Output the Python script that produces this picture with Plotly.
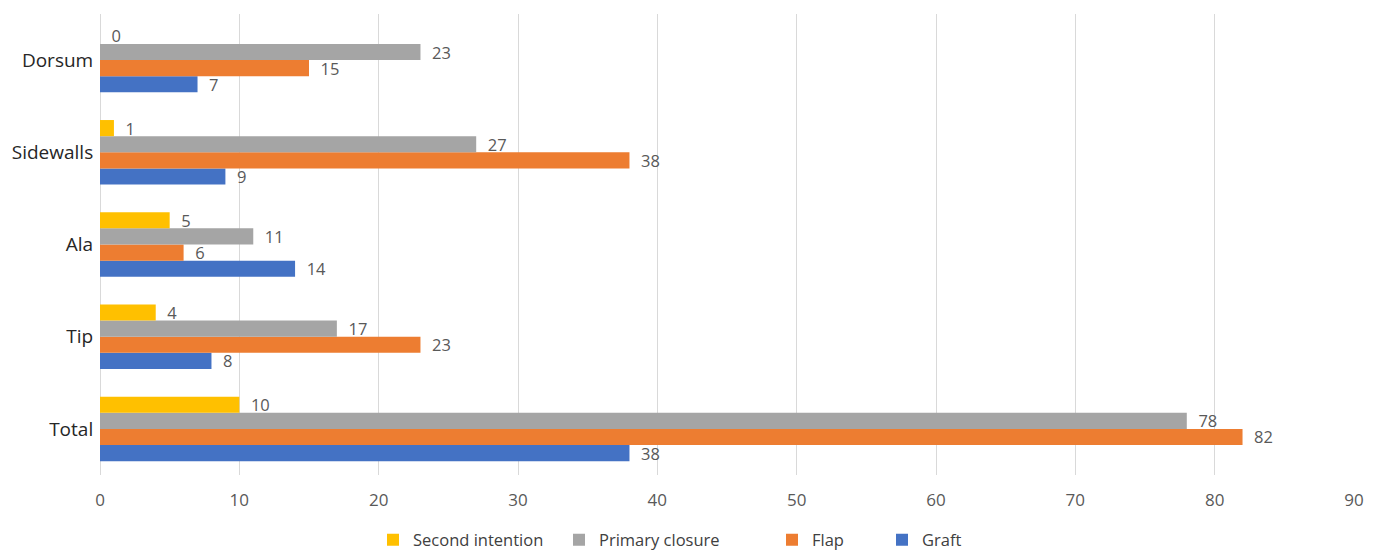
import plotly.graph_objects as go

categories = ["Total", "Tip", "Ala", "Sidewalls", "Dorsum"]
graft = [38, 8, 14, 9, 7]
flap = [82, 23, 6, 38, 15]
primary_closure = [78, 17, 11, 27, 23]
second_intention = [10, 4, 5, 1, 0]
x_ticks = [0, 10, 20, 30, 40, 50, 60, 70, 80, 90]

series = [
    ("Graft", graft, "#4472C4", "legend4", 882),
    ("Flap", flap, "#ED7D31", "legend3", 772),
    ("Primary closure", primary_closure, "#A5A5A5", "legend2", 559),
    ("Second intention", second_intention, "#FFC000", "legend", 373),
]

fig = go.Figure()
for name, vals, color, leg, _ in series:
    fig.add_trace(go.Bar(
        y=categories, x=vals, name=name, orientation="h",
        marker=dict(color=color, line=dict(width=0)),
        text=vals, texttemplate="\u00a0\u00a0%{x}", textposition="outside",
        constraintext="none", cliponaxis=False,
        textfont=dict(family="Open Sans", size=16.5, color="#595959"),
        legend=leg,
    ))

L, R, T, B = 100, 1354, 14, 475
W, H = 1376, 551
layout_legends = {}
for name, vals, color, leg, px in series:
    layout_legends[leg] = dict(
        x=(px - L) / (R - L), xanchor="left",
        y=(B - 540) / (B - T), yanchor="middle",
        orientation="h", bgcolor="rgba(0,0,0,0)",
        font=dict(family="Open Sans", size=16.5, color="#404040"),
    )

fig.update_layout(
    width=W, height=H,
    margin=dict(l=L, r=W - R, t=T, b=H - B, pad=0, autoexpand=False),
    barmode="group", bargap=0.30, bargroupgap=0,
    plot_bgcolor="white", paper_bgcolor="white",
    showlegend=True,
    xaxis=dict(range=[0, 90], tickvals=x_ticks, showgrid=True,
               gridcolor="#D9D9D9", gridwidth=1, zeroline=True,
               zerolinecolor="#D9D9D9", zerolinewidth=1, showline=False,
               ticks="outside", ticklen=10, tickcolor="rgba(0,0,0,0)",
               tickfont=dict(family="Open Sans", size=17, color="#595959")),
    yaxis=dict(categoryorder="array", categoryarray=categories,
               showgrid=False, showline=False, ticks="outside", ticklen=2,
               tickcolor="rgba(0,0,0,0)",
               tickfont=dict(family="Open Sans", size=19, color="#262626")),
    **layout_legends,
)
fig.write_html("out.html")
